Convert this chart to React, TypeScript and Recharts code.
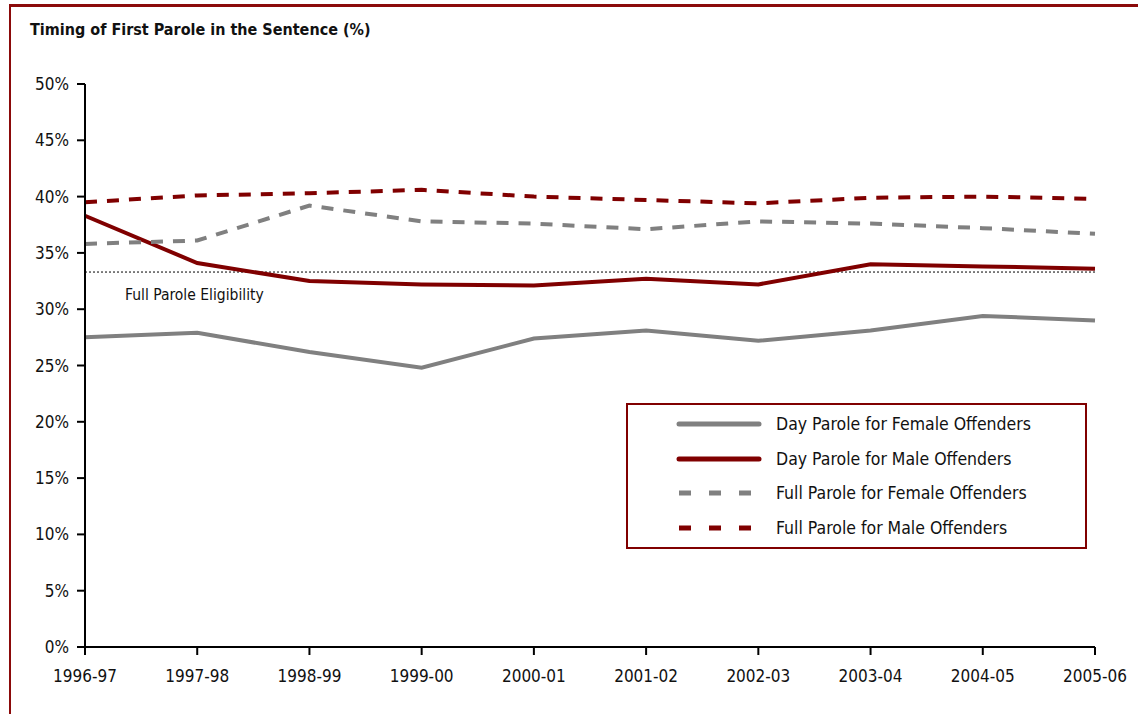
import { LineChart, Line, XAxis, YAxis, ReferenceLine, Legend } from "recharts";

const YEARS = ["1996-97", "1997-98", "1998-99", "1999-00", "2000-01", "2001-02", "2002-03", "2003-04", "2004-05", "2005-06"];
const DAY_FEMALE = [27.5, 27.9, 26.2, 24.8, 27.4, 28.1, 27.2, 28.1, 29.4, 29.0];
const DAY_MALE = [38.3, 34.1, 32.5, 32.2, 32.1, 32.7, 32.2, 34.0, 33.8, 33.6];
const FULL_FEMALE = [35.8, 36.1, 39.2, 37.8, 37.6, 37.1, 37.8, 37.6, 37.2, 36.7];
const FULL_MALE = [39.5, 40.1, 40.3, 40.6, 40.0, 39.7, 39.4, 39.9, 40.0, 39.8];
const Y_TICKS = [0, 5, 10, 15, 20, 25, 30, 35, 40, 45, 50];
const ELIGIBILITY = 33.3;

const data = YEARS.map((year, i) => ({
  year,
  dayFemale: DAY_FEMALE[i],
  dayMale: DAY_MALE[i],
  fullFemale: FULL_FEMALE[i],
  fullMale: FULL_MALE[i],
}));

const RED = "#800000";
const GREY = "#808080";
const FONT = "'Liberation Sans Narrow', 'DejaVu Sans Condensed', 'Arial Narrow', sans-serif";

const tick = { fontSize: 17, fill: "#111", fontFamily: FONT };

function LegendBox({ payload }: any) {
  return (
    <div
      style={{
        width: 461,
        height: 146,
        border: `2px solid ${RED}`,
        boxSizing: "border-box",
        paddingTop: 2,
        fontFamily: FONT,
        fontSize: 17.5,
        color: "#111",
        background: "#fff",
      }}
    >
      {(payload || []).map((p: any) => (
        <div key={p.value} style={{ display: "flex", alignItems: "center", height: 34.5 }}>
          <svg width={148} height={10} style={{ flex: "none" }}>
            <line
              x1={51}
              x2={131}
              y1={5}
              y2={5}
              stroke={p.color}
              strokeWidth={5}
              strokeLinecap={p.payload.strokeDasharray ? "butt" : "round"}
              strokeDasharray={p.payload.strokeDasharray ? "12 18" : undefined}
            />
          </svg>
          <span>{p.value}</span>
        </div>
      ))}
    </div>
  );
}

export default function App() {
  return (
    <div style={{ position: "absolute", left: 0, top: 0, width: 1138, height: 714, overflow: "hidden", background: "#fff" }}>
      <div
        style={{
          position: "absolute",
          left: 9,
          top: 4,
          width: 1300,
          height: 900,
          borderTop: `3px solid #8b0a0a`,
          borderLeft: `2px solid #8b0a0a`,
        }}
      />
      <div
        style={{
          position: "absolute",
          left: 30,
          top: 20,
          fontFamily: FONT,
          fontWeight: "bold",
          fontSize: 16,
          color: "#111",
        }}
      >
        Timing of First Parole in the Sentence (%)
      </div>
      <LineChart
        width={1138}
        height={714}
        data={data}
        margin={{ top: 84, right: 43, left: 25, bottom: 37 }}
        style={{ position: "absolute", left: 0, top: 0 }}
      >
        <XAxis
          dataKey="year"
          stroke="#000"
          strokeWidth={2}
          tickSize={8}
          tick={tick}
          tickMargin={15}
          height={30}
          interval={0}
        />
        <YAxis
          domain={[0, 50]}
          ticks={Y_TICKS}
          tickFormatter={(v) => `${v}%`}
          stroke="#000"
          strokeWidth={2}
          tickSize={8}
          tickMargin={8}
          tick={tick}
          width={60}
          interval={0}
        />
        <ReferenceLine
          y={ELIGIBILITY}
          stroke="#000"
          strokeWidth={1}
          strokeDasharray="2 2"
          label={({ viewBox }: any) => (
            <text x={viewBox.x + 40} y={viewBox.y + 28} fontFamily={FONT} fontSize={15.5} fill="#111">
              Full Parole Eligibility
            </text>
          )}
        />
        <Line dataKey="dayFemale" name="Day Parole for Female Offenders" stroke={GREY} strokeWidth={4} dot={false} isAnimationActive={false} />
        <Line dataKey="dayMale" name="Day Parole for Male Offenders" stroke={RED} strokeWidth={4} dot={false} isAnimationActive={false} />
        <Line dataKey="fullFemale" name="Full Parole for Female Offenders" stroke={GREY} strokeWidth={4} strokeDasharray="12 10" dot={false} isAnimationActive={false} />
        <Line dataKey="fullMale" name="Full Parole for Male Offenders" stroke={RED} strokeWidth={4} strokeDasharray="12 10" dot={false} isAnimationActive={false} />
        <Legend
          content={<LegendBox />}
          layout="vertical"
          align="center"
          verticalAlign="middle"
          wrapperStyle={{ position: "absolute", left: 626, top: 403, width: 461, height: 146 }}
        />
      </LineChart>
    </div>
  );
}
